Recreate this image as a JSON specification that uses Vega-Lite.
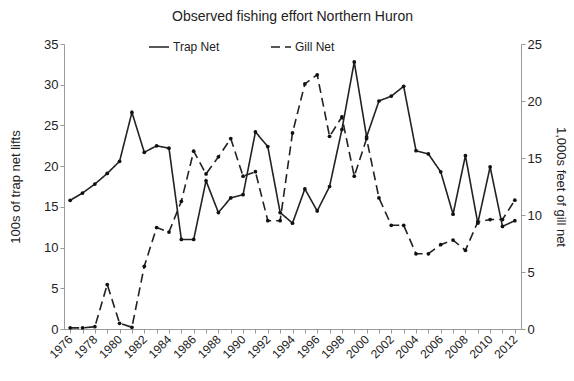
{
  "$schema": "https://vega.github.io/schema/vega-lite/v6.json",
  "width": 457,
  "height": 285,
  "autosize": {"type": "none"},
  "padding": {"left": 64, "top": 44, "right": 53, "bottom": 52},
  "background": "white",
  "title": {"text": "Observed fishing effort Northern Huron", "font": "Liberation Sans", "fontSize": 14, "fontWeight": "normal", "color": "#222", "anchor": "middle", "offset": 12},
  "config": {
    "view": {"stroke": null},
    "axis": {"grid": false, "domainColor": "#999", "tickColor": "#999", "labelColor": "#222", "labelFont": "Liberation Sans", "labelFontSize": 12, "titleFont": "Liberation Sans", "titleFontSize": 13, "titleFontWeight": "normal", "titleColor": "#222", "tickSize": 4},
    "legend": {"labelFont": "Liberation Sans", "labelFontSize": 12, "labelColor": "#222"}
  },
  "data": {"values": [
    {"year": 1976, "trap": 15.8, "gill": 0.1},
    {"year": 1977, "trap": 16.7, "gill": 0.1},
    {"year": 1978, "trap": 17.8, "gill": 0.2},
    {"year": 1979, "trap": 19.1, "gill": 3.9},
    {"year": 1980, "trap": 20.6, "gill": 0.5},
    {"year": 1981, "trap": 26.6, "gill": 0.15},
    {"year": 1982, "trap": 21.7, "gill": 5.5},
    {"year": 1983, "trap": 22.5, "gill": 8.9},
    {"year": 1984, "trap": 22.2, "gill": 8.5},
    {"year": 1985, "trap": 11.0, "gill": 11.2},
    {"year": 1986, "trap": 11.0, "gill": 15.6},
    {"year": 1987, "trap": 18.2, "gill": 13.6},
    {"year": 1988, "trap": 14.3, "gill": 15.1},
    {"year": 1989, "trap": 16.1, "gill": 16.7},
    {"year": 1990, "trap": 16.5, "gill": 13.4},
    {"year": 1991, "trap": 24.2, "gill": 13.8},
    {"year": 1992, "trap": 22.4, "gill": 9.5},
    {"year": 1993, "trap": 14.3, "gill": 9.5},
    {"year": 1994, "trap": 13.0, "gill": 17.2},
    {"year": 1995, "trap": 17.2, "gill": 21.5},
    {"year": 1996, "trap": 14.5, "gill": 22.3},
    {"year": 1997, "trap": 17.5, "gill": 16.9},
    {"year": 1998, "trap": 24.5, "gill": 18.6},
    {"year": 1999, "trap": 32.8, "gill": 13.4},
    {"year": 2000, "trap": 23.6, "gill": 16.7},
    {"year": 2001, "trap": 28.0, "gill": 11.5},
    {"year": 2002, "trap": 28.6, "gill": 9.1},
    {"year": 2003, "trap": 29.8, "gill": 9.1},
    {"year": 2004, "trap": 21.9, "gill": 6.6},
    {"year": 2005, "trap": 21.5, "gill": 6.6},
    {"year": 2006, "trap": 19.3, "gill": 7.4},
    {"year": 2007, "trap": 14.1, "gill": 7.8},
    {"year": 2008, "trap": 21.3, "gill": 6.9},
    {"year": 2009, "trap": 13.0, "gill": 9.4},
    {"year": 2010, "trap": 19.9, "gill": 9.6},
    {"year": 2011, "trap": 12.6, "gill": 9.6},
    {"year": 2012, "trap": 13.3, "gill": 11.3}
  ]},
  "encoding": {
    "x": {"field": "year", "type": "ordinal", "scale": {"type": "point", "padding": 0.5},
      "axis": {"title": null, "labelAngle": -45, "labelAlign": "right", "labelBaseline": "middle", "labelPadding": 4, "labelExpr": "datum.value % 2 == 0 ? datum.label : ''"}}
  },
  "layer": [
    {
      "mark": {"type": "line", "color": "#222", "strokeWidth": 1.6, "point": {"filled": true, "size": 14, "color": "#111"}},
      "encoding": {
        "y": {"field": "trap", "type": "quantitative", "scale": {"domain": [0, 35]}, "axis": {"title": "100s of trap net lifts", "values": [0,5,10,15,20,25,30,35], "titlePadding": 21, "labelFontSize": 13}},
        "strokeDash": {"datum": "Trap Net", "scale": {"domain": ["Trap Net", "Gill Net"], "range": [[1, 0], [9, 5]]},
          "legend": {"title": null, "orient": "none", "direction": "horizontal", "legendX": 84, "legendY": -8, "symbolType": "stroke", "symbolSize": 400, "columnPadding": 48, "labelOffset": 3,
            "encode": {"symbols": {"update": {"stroke": {"value": "#222"}, "strokeWidth": {"value": 1.6}, "opacity": {"value": 1}, "strokeOpacity": {"value": 1}}}}}}
      }
    },
    {
      "mark": {"type": "line", "color": "#222", "strokeWidth": 1.6, "point": {"filled": true, "size": 14, "color": "#111"}},
      "encoding": {
        "y": {"field": "gill", "type": "quantitative", "scale": {"domain": [0, 25]}, "axis": {"title": "1,000s feet of gill net", "orient": "right", "values": [0,5,10,15,20,25], "titlePadding": 12, "labelFontSize": 13}},
        "strokeDash": {"datum": "Gill Net"}
      }
    }
  ],
  "resolve": {"scale": {"y": "independent"}}
}
